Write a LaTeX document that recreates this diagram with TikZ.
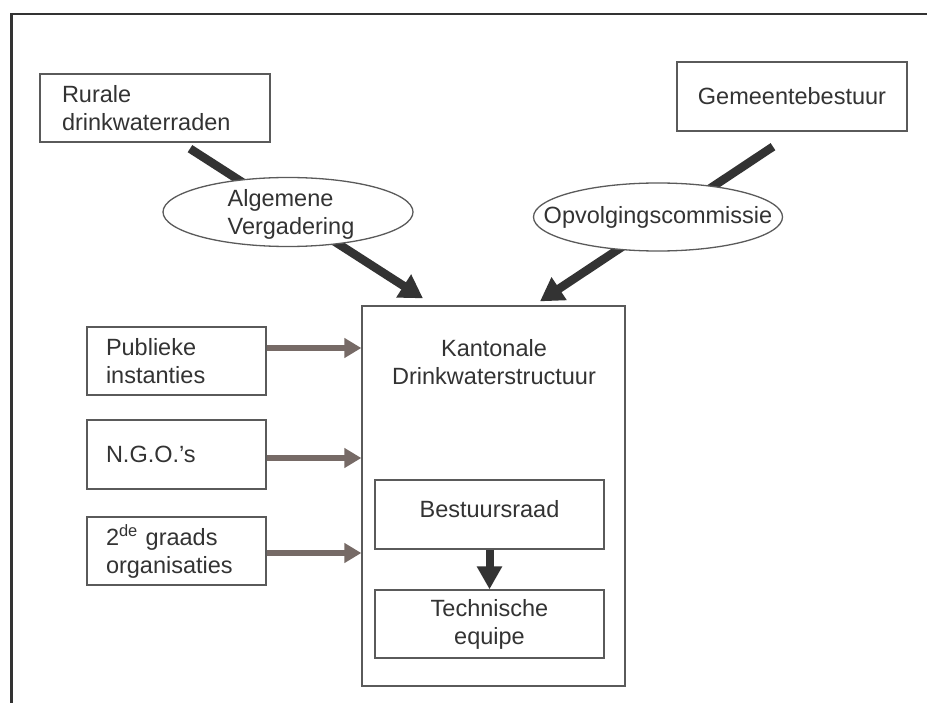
\documentclass[tikz,border=0pt]{standalone}
\usepackage{fontspec}
\setmainfont{Liberation Sans}
\usetikzlibrary{arrows.meta, shapes.geometric, positioning}
\definecolor{inkgrey}{RGB}{51,51,51}
\definecolor{boxgrey}{RGB}{90,90,90}
\definecolor{feedbrown}{RGB}{118,106,102}
\tikzset{
	every node/.style={
		align=center,
		font=\fontsize{23.5}{28}\selectfont,
		text=inkgrey,
	},
	orgbox/.style={draw=boxgrey, line width=1.3pt, fill=white, inner sep=0pt, minimum height=68pt},
	leftbox/.style={orgbox, align=left, inner xsep=19pt, text width=141pt},
	meetbox/.style={ellipse, draw=boxgrey, line width=1.3pt, fill=white, inner sep=0pt},
	bigarrow/.style={draw=inkgrey, line width=8.5pt, -{Triangle[length=23pt, width=26pt]}},
	feedarrow/.style={draw=feedbrown, line width=6.5pt, -{Triangle[length=17pt, width=19pt]}},
}

\begin{document}
\begin{tikzpicture}[x=1pt, y=-1pt]
	\useasboundingbox (0,0) rectangle (927,703);
	
	\draw[inkgrey, line width=2.5pt] (11.5,703) -- (11.5,14) -- (927,14);
	
	\node[orgbox, align=left, inner xsep=22pt, text width=186pt] (rur) at (155,108) {Rurale\\drinkwaterraden};
	\node[orgbox, minimum width=230pt, minimum height=69pt] (gem) at (792,96.5) {Gemeentebestuur};
	
	\node[orgbox, minimum width=263pt, minimum height=380pt] (kant) at (493.5,496) {};
	\node (kanttitle) at (494,362) {Kantonale\\Drinkwaterstructuur};
	\node[orgbox, minimum width=229pt, minimum height=69pt, text depth=12pt] (bes) at (489.5,514.5) {Bestuursraad};
	\node[orgbox, minimum width=229pt] (tech) at (489.5,624) {Technische\\equipe};
	
	\node[leftbox] (pub) at (176.5,361) {Publieke\\instanties};
	\node[leftbox, minimum height=69pt] (ngo) at (176.5,454.5) {N.G.O.'s};
	\node[leftbox] (twee) at (176.5,551) {2\textsuperscript{de} graads\\organisaties};
	
	% the two heavy arrows run under the ellipses
	\draw[bigarrow] ([xshift=35pt, yshift=-6pt]rur.south) -- ([xshift=-70.5pt, yshift=7pt]kant.north);
	\draw[bigarrow] ([xshift=-19pt, yshift=-15pt]gem.south) -- ([xshift=46.5pt, yshift=4pt]kant.north);
	
	\node[meetbox, minimum width=250pt, minimum height=69pt] (alg) at (288,212) {};
	\node[align=left] (algtxt) at (291,214) {Algemene\\Vergadering};
	\node[meetbox, minimum width=249pt, minimum height=68pt] (opv) at (658,217) {};
	\node (opvtxt) at (opv) {Opvolgingscommissie};
	
	\draw[bigarrow, line width=8pt, -{Triangle[length=23pt, width=24pt]}] (bes.south) -- (tech.north);
	
	\draw[feedarrow] ([yshift=13pt]pub.east) coordinate (p1) -- (p1 -| kant.west);
	\draw[feedarrow] ([yshift=-3.5pt]ngo.east) coordinate (p2) -- (p2 -| kant.west);
	\draw[feedarrow] ([yshift=-2pt]twee.east) coordinate (p3) -- (p3 -| kant.west);
	
\end{tikzpicture}
\end{document}
